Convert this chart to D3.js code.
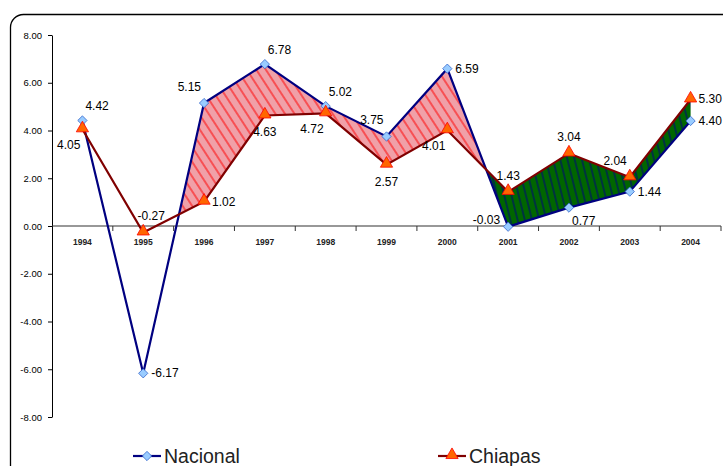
<!DOCTYPE html>
<html>
<head>
<meta charset="utf-8">
<script src="https://cdn.jsdelivr.net/npm/d3@7"></script>
<style>
  body { margin: 0; background: #fff; }
  svg { display: block; font-family: Arial, "Liberation Sans", sans-serif; }
</style>
</head>
<body>
<div id="chart"></div>
<script>
// data
const years = ['1994', '1995', '1996', '1997', '1998', '1999', '2000', '2001', '2002', '2003', '2004'];
const nacional = [4.42, -6.17, 5.15, 6.78, 5.02, 3.75, 6.59, -0.03, 0.77, 1.44, 4.40];
const chiapas = [4.05, -0.27, 1.02, 4.63, 4.72, 2.57, 4.01, 1.43, 3.04, 2.04, 5.30];
const yTicks = [8, 6, 4, 2, 0, -2, -4, -6, -8];
const seriesNames = ['Nacional', 'Chiapas'];

// where each value label sits relative to its point
const nacPos = ['ar', 'r', 'al', 'ar', 'ar', 'al', 'r', 'l', 'br', 'r', 'r'];
const chiPos = ['bl', 'ra', 'r', 'b', 'bl', 'b', 'bl', 'a', 'a', 'al', 'r'];

const w = 723;
const h = 466;
const left = 52;
const right = 721;

// hyphen minus like the original, not the unicode one
const fmt = d => d3.format('.2f')(d).replace('\u2212', '-');

const svg = d3.select('#chart').append('svg').attr('width', w).attr('height', h);

// frame
svg.append('rect')
  .attr('x', 10.5).attr('y', 14.5)
  .attr('width', 760).attr('height', 500)
  .attr('rx', 13)
  .attr('fill', '#fff')
  .attr('stroke', '#000')
  .attr('stroke-width', 1.3);

const xScale = d3.scaleBand().domain(years).range([left, right]).padding(0);
const yScale = d3.scaleLinear().domain([-8, 8]).range([417, 35]);
const cx = i => xScale(years[i]) + xScale.bandwidth() / 2;

// hatch patterns
const defs = svg.append('defs');
const pink = defs.append('pattern')
  .attr('id', 'hatchPink').attr('patternUnits', 'userSpaceOnUse')
  .attr('width', 8).attr('height', 8)
  .attr('patternTransform', 'rotate(-33)');
pink.append('rect').attr('width', 8).attr('height', 8).attr('fill', '#f0a0a8');
pink.append('line').attr('x1', 1).attr('x2', 1).attr('y1', 0).attr('y2', 8)
  .attr('stroke', '#ff0000').attr('stroke-width', 1);

const green = defs.append('pattern')
  .attr('id', 'hatchGreen').attr('patternUnits', 'userSpaceOnUse')
  .attr('width', 7).attr('height', 7)
  .attr('patternTransform', 'rotate(-14)');
green.append('rect').attr('width', 7).attr('height', 7).attr('fill', '#006600');
green.append('line').attr('x1', 1).attr('x2', 1).attr('y1', 0).attr('y2', 7)
  .attr('stroke', '#000080').attr('stroke-width', 1);

// shaded band between the series (from the 1995-96 crossing onward)
const pts = years.map((y, i) => ({ t: i, n: nacional[i], c: chiapas[i] }));
const runs = [];
let cur = [pts[0]];
for (let i = 0; i < pts.length - 1; i++) {
  const d0 = pts[i].n - pts[i].c;
  const d1 = pts[i + 1].n - pts[i + 1].c;
  if (d0 * d1 < 0) {
    const f = d0 / (d0 - d1);
    const cross = {
      t: i + f,
      n: pts[i].n + f * (pts[i + 1].n - pts[i].n),
      c: pts[i].c + f * (pts[i + 1].c - pts[i].c),
    };
    cur.push(cross);
    runs.push(cur);
    cur = [cross];
  }
  cur.push(pts[i + 1]);
}
runs.push(cur);

const xt = t => {
  const i = Math.floor(t);
  if (i >= years.length - 1) return cx(years.length - 1);
  return cx(i) + (t - i) * (cx(i + 1) - cx(i));
};

runs.filter(r => r[0].t >= 1).forEach(r => {
  const top = r.map(p => [xt(p.t), yScale(p.n)]);
  const bot = r.slice().reverse().map(p => [xt(p.t), yScale(p.c)]);
  const mid = r[Math.floor(r.length / 2)];
  svg.append('path')
    .attr('d', 'M' + top.concat(bot).join('L') + 'Z')
    .attr('fill', mid.n > mid.c ? 'url(#hatchPink)' : 'url(#hatchGreen)')
    .attr('stroke', 'none');
});

// y axis
const yAxis = d3.axisLeft(yScale).tickValues(yTicks)
  .tickFormat(fmt).tickSize(4).tickSizeOuter(0);
const gy = svg.append('g').attr('transform', `translate(${left},0)`).call(yAxis);
gy.selectAll('text').attr('font-size', 9.5).attr('font-family', 'Arial, sans-serif')
  .attr('fill', '#000').attr('x', -10);
gy.selectAll('line, path').attr('stroke', '#000');

// x axis at zero
const gx = svg.append('g').attr('transform', `translate(0,${yScale(0)})`);
gx.append('line').attr('x1', left).attr('x2', right).attr('stroke', '#333').attr('stroke-width', 1.2);
gx.selectAll('.tk').data(d3.range(1, years.length + 1)).enter().append('line')
  .attr('x1', i => left + i * xScale.bandwidth()).attr('x2', i => left + i * xScale.bandwidth())
  .attr('y1', 0).attr('y2', 5).attr('stroke', '#333');
gx.selectAll('text').data(years).enter().append('text')
  .attr('x', d => xScale(d) + xScale.bandwidth() / 2)
  .attr('y', 19)
  .attr('text-anchor', 'middle')
  .attr('font-size', 8.5)
  .attr('font-weight', 'bold')
  .attr('fill', '#222')
  .text(d => d);

// lines
const line = d3.line().x((d, i) => cx(i)).y(d => yScale(d));
svg.append('path').datum(nacional).attr('d', line)
  .attr('fill', 'none').attr('stroke', '#000080').attr('stroke-width', 2.2);
svg.append('path').datum(chiapas).attr('d', line)
  .attr('fill', 'none').attr('stroke', '#800000').attr('stroke-width', 2.2);

// markers
const diamond = d3.symbol().type(d3.symbolDiamond2).size(55);
const triangle = d3.symbol().type(d3.symbolTriangle).size(65);

svg.selectAll('.nac').data(nacional).enter().append('path')
  .attr('d', diamond)
  .attr('transform', (d, i) => `translate(${cx(i)},${yScale(d)})`)
  .attr('fill', '#99ccff').attr('stroke', '#3366cc').attr('stroke-width', 0.8);
svg.selectAll('.chi').data(chiapas).enter().append('path')
  .attr('d', triangle)
  .attr('transform', (d, i) => `translate(${cx(i)},${yScale(d) - 1})`)
  .attr('fill', '#ff6600').attr('stroke', '#ff0000').attr('stroke-width', 0.8);

// value labels
const offs = {
  r: [8, 4, 'start'],
  l: [-8, -3, 'end'],
  a: [0, -12, 'middle'],
  ra: [8, -12, 'middle'],
  b: [0, 21, 'middle'],
  ar: [3, -10, 'start'],
  al: [-3, -12, 'end'],
  br: [3, 17, 'start'],
  bl: [-2, 20, 'end'],
};
function labels(vals, pos) {
  svg.append('g').selectAll('text').data(vals).enter().append('text')
    .attr('x', (d, i) => cx(i) + offs[pos[i]][0])
    .attr('y', (d, i) => yScale(d) + offs[pos[i]][1])
    .attr('text-anchor', (d, i) => offs[pos[i]][2])
    .attr('font-size', 12)
    .attr('fill', '#000')
    .text(fmt);
}
labels(nacional, nacPos);
labels(chiapas, chiPos);

// legend
const legend = svg.append('g').attr('transform', `translate(0,456)`);
const legX = [133, 438];
seriesNames.forEach((name, k) => {
  const g = legend.append('g').attr('transform', `translate(${legX[k]},0)`);
  g.append('line').attr('x1', 0).attr('x2', 28).attr('y1', 0).attr('y2', 0)
    .attr('stroke', k ? '#800000' : '#000080').attr('stroke-width', 2.2);
  g.append('path').attr('d', k ? triangle : diamond)
    .attr('transform', `translate(14,${k ? -1 : 0})`)
    .attr('fill', k ? '#ff6600' : '#99ccff')
    .attr('stroke', k ? '#ff0000' : '#3366cc').attr('stroke-width', 0.8);
  g.append('text').attr('x', 31).attr('y', 7)
    .attr('font-size', 19.5).attr('fill', '#222').text(name);
});
</script>
</body>
</html>
